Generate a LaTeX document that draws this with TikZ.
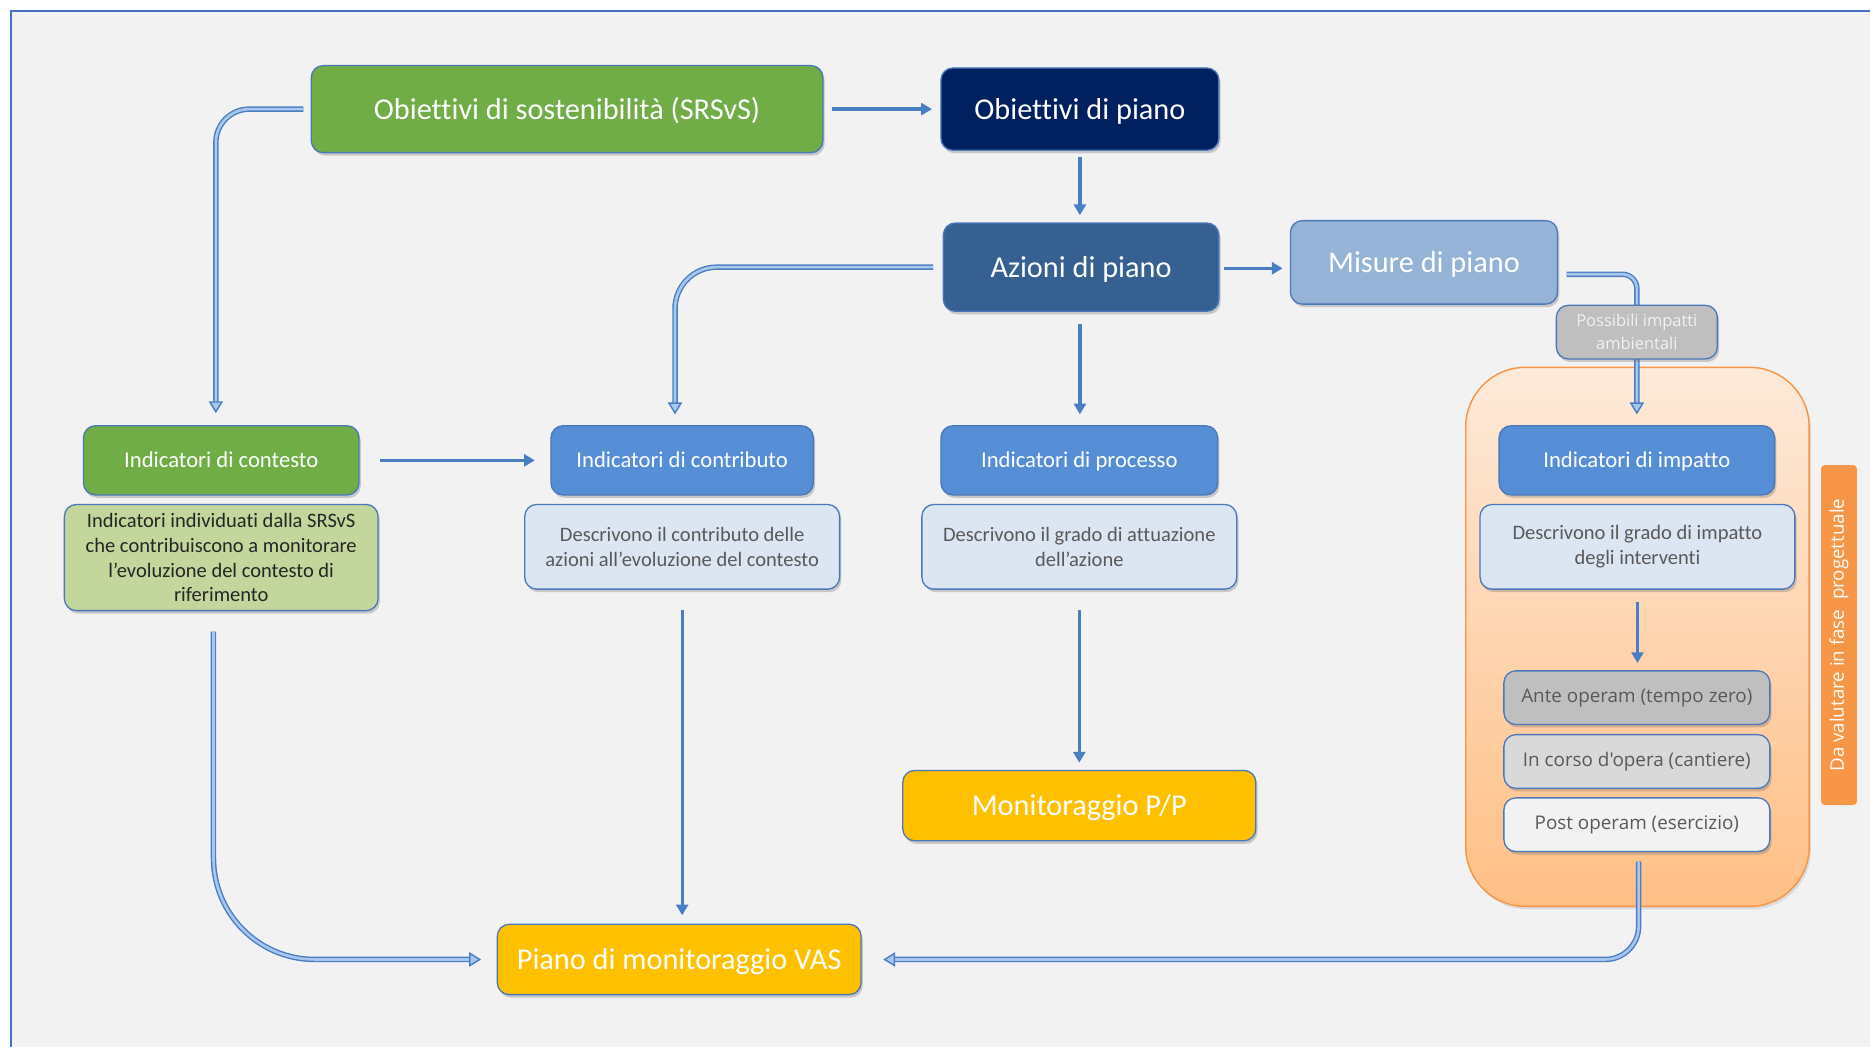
\documentclass[tikz,border=0pt]{standalone}
\usepackage{fontspec}
\setmainfont{Carlito}[Ligatures=NoCommon]
\newfontfamily\osans{Open Sans}
\usetikzlibrary{arrows.meta,shadows,calc}
\definecolor{bgc}{HTML}{F2F2F2}
\definecolor{framec}{HTML}{4472C4}
\definecolor{bordc}{HTML}{4A78B8}
\definecolor{greenc}{HTML}{70AD47}
\definecolor{navyc}{HTML}{002060}
\definecolor{azc}{HTML}{376092}
\definecolor{misc}{HTML}{95B3D7}
\definecolor{grayc}{HTML}{BFBFBF}
\definecolor{lgrayc}{HTML}{D9D9D9}
\definecolor{indc}{HTML}{558ED5}
\definecolor{descc}{HTML}{DCE6F2}
\definecolor{gdescc}{HTML}{C3D69B}
\definecolor{yelc}{HTML}{FFC000}
\definecolor{orc}{HTML}{F79646}
\definecolor{peachtop}{HTML}{FDEADA}
\definecolor{peachbot}{HTML}{FFBF86}
\definecolor{txtg}{HTML}{595959}
\definecolor{txtd}{HTML}{262626}
\definecolor{arrc}{HTML}{4A7EC2}
\definecolor{arrl}{HTML}{A9C6EC}
\tikzset{
  box/.style={rounded corners=10pt, draw=bordc, line width=1.1pt, align=center, inner sep=2pt,
    drop shadow={opacity=0.3, shadow xshift=1.5pt, shadow yshift=-2.5pt, fill=black!60}},
  big/.style={font=\fontsize{25.4}{30}\selectfont, text=white, text depth=1pt},
  mid/.style={font=\fontsize{19}{23}\selectfont, text=white, text depth=1pt},
  desc/.style={font=\fontsize{17.2}{20.8}\selectfont, text=txtg},
  phase/.style={box, minimum width=223pt, minimum height=45pt, font=\osans\fontsize{15.8}{19}\selectfont, text=txtg},
  arr/.style={draw=arrc, line width=3pt, -{Triangle[length=9pt,width=10pt]}},
  arrthin/.style={draw=arrc, line width=2.4pt, -{Triangle[length=9pt,width=10pt]}},
  dbl/.style={draw=arrc, line width=1.2pt, double=arrl, double distance=2.2pt, -{Triangle[length=10pt,width=12pt,fill=arrl]}}
}
\begin{document}
\begin{tikzpicture}[x=1pt,y=-1pt]
\useasboundingbox (0,0) rectangle (1568,878);
\fill[white] (0,0) rectangle (1568,878);
\fill[bgc] (9,9) rectangle (1568,878);
\draw[framec, line width=1.7pt] (9,878) -- (9,9) -- (1568,9);

% container and side label
\node[draw=orc, line width=1.2pt, rounded corners=50pt, top color=peachtop, bottom color=peachbot,
  minimum width=288pt, minimum height=452pt, inner sep=0pt,
  drop shadow={opacity=0.2, shadow xshift=1.5pt, shadow yshift=-2.5pt}] (cont) at (1373,534) {};
\node[fill=orc, rounded corners=3pt, minimum width=285pt, minimum height=30pt, inner sep=0pt, rotate=90,
  text=white, font=\osans\fontsize{15.7}{18}\selectfont] (lab) at (1542,532.5) {Da valutare in fase\ \ progettuale};

% top row
\node[box, big, fill=greenc, minimum width=429pt, minimum height=73pt] (sost) at (475.5,91.5) {Obiettivi di sostenibilità (SRSvS)};
\node[box, big, fill=navyc, minimum width=233pt, minimum height=69pt] (obpiano) at (905.5,91.5) {Obiettivi di piano};
\node[box, big, fill=azc, minimum width=231pt, minimum height=74pt] (azioni) at (906.5,224) {Azioni di piano};
\node[box, big, fill=misc, minimum width=224pt, minimum height=70pt] (misure) at (1194,220) {Misure di piano};

% indicators
\node[box, mid, fill=greenc, minimum width=231pt, minimum height=58pt] (contind) at (185.5,386) {Indicatori di contesto};
\node[box, mid, fill=indc, minimum width=220pt, minimum height=58pt] (contribind) at (572,386) {Indicatori di contributo};
\node[box, mid, fill=indc, minimum width=232pt, minimum height=58pt] (procind) at (905,386) {Indicatori di processo};
\node[box, mid, fill=indc, minimum width=231pt, minimum height=58pt] (impatto) at (1372.5,386) {Indicatori di impatto};

% descriptions
\node[box, desc, text=txtd, fill=gdescc, minimum width=263pt, minimum height=89pt] (contdesc) at (185.5,467.5)
  {Indicatori individuati dalla SRSvS\\che contribuiscono a monitorare\\l’evoluzione del contesto di\\riferimento};
\node[box, desc, fill=descc, minimum width=264pt, minimum height=71pt] (contribdesc) at (572,458.5)
  {Descrivono il contributo delle\\azioni all’evoluzione del contesto};
\node[box, desc, fill=descc, minimum width=264pt, minimum height=71pt] (procdesc) at (905,458.5)
  {Descrivono il grado di attuazione\\dell’azione};
\node[box, desc, fill=descc, minimum width=264pt, minimum height=71pt] (impdesc) at (1373,458.5)
  {Descrivono il grado di impatto\\degli interventi};

% phases
\node[phase, fill=grayc] (ante) at (1372.5,585) {Ante operam (tempo zero)};
\node[phase, fill=lgrayc] (incorso) at (1372.5,638.5) {In corso d'opera (cantiere)};
\node[phase, fill=bgc] (post) at (1372.5,691.5) {Post operam (esercizio)};

% outputs
\node[box, big, fill=yelc, minimum width=296pt, minimum height=59pt] (monit) at (905,675.5) {Monitoraggio P/P};
\node[box, big, fill=yelc, minimum width=305pt, minimum height=59pt] (vas) at (569.5,804.5) {Piano di monitoraggio VAS};

% straight arrows
\draw[arr, shorten <=7pt, shorten >=7pt] (sost.east) -- (obpiano.west);
\draw[arr, shorten <=5pt, shorten >=6pt] (obpiano.south) -- (obpiano.south |- azioni.north);
\draw[arr, shorten <=4pt, shorten >=6pt] ([yshift=-1pt]azioni.east) -- ([yshift=-1pt]azioni.east -| misure.west);
\draw[arr, shorten <=10pt, shorten >=9pt] ([xshift=-1pt]azioni.south) -- ([xshift=-1pt]azioni.south |- procind.north);
\draw[arr, shorten <=17pt, shorten >=13pt] (contind.east) -- (contribind.west);
\draw[arr, shorten <=10pt, shorten >=6pt] (impdesc.south) -- (impdesc.south |- ante.north);
\draw[arrthin, shorten <=17pt, shorten >=7pt] (contribdesc.south) -- (contribdesc.south |- vas.north);
\draw[arrthin, shorten <=17pt, shorten >=6pt] (procdesc.south) -- (procdesc.south |- monit.north);

% double connectors
\draw[dbl, rounded corners=28pt, shorten <=6pt, shorten >=10pt] (sost.west) -| ([xshift=-4.5pt]contind.north);
\draw[dbl, rounded corners=35pt, shorten <=8pt, shorten >=9pt] (azioni.west) -| ([xshift=-6pt]contribind.north);
\draw[dbl, rounded corners=12pt, shorten <=7pt, shorten >=9pt] ([yshift=-10pt]misure.east) -| (impatto.north);
\draw[dbl, rounded corners=85pt, shorten <=17pt, shorten >=13pt] ([xshift=-6.5pt]contdesc.south) |- (vas.west);
\draw[dbl, rounded corners=28pt, shorten <=8pt, shorten >=18pt] ([xshift=1.5pt]post.south) |- (vas.east);

% label box over the connector
\node[box, fill=grayc, minimum width=135pt, minimum height=45pt, text=bgc,
  font=\osans\fontsize{13.8}{19}\selectfont] (poss) at (1372.5,278.5) {Possibili impatti\\ambientali};
\end{tikzpicture}
\end{document}
